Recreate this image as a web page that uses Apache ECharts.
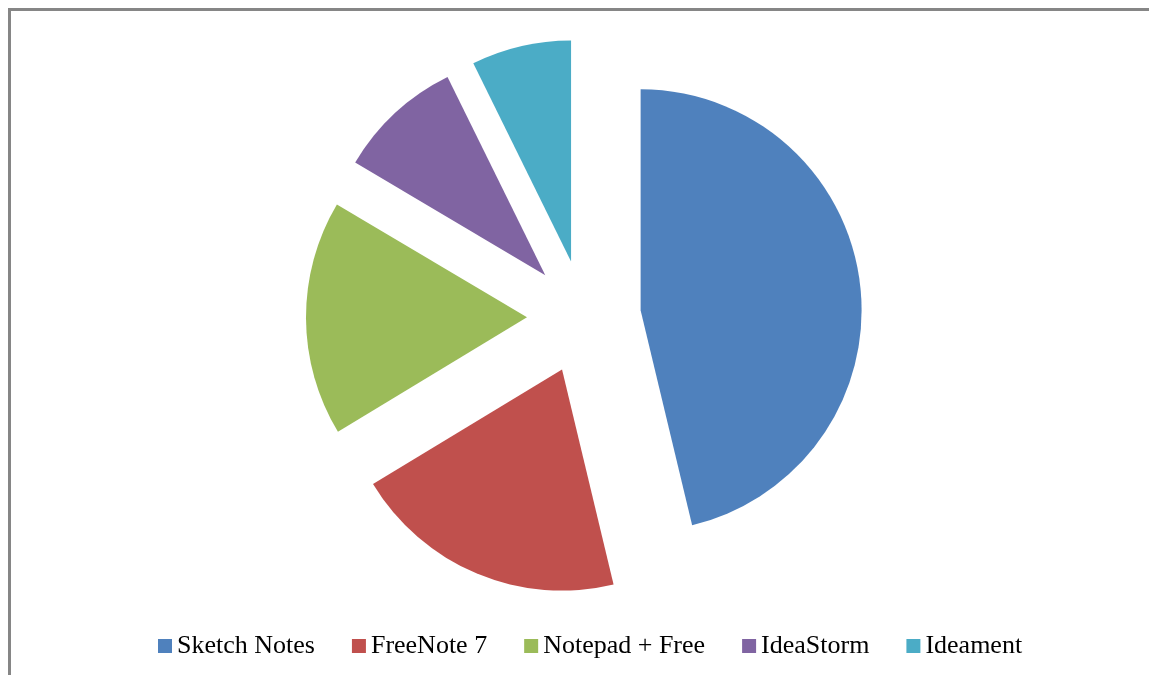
<!DOCTYPE html>
<html>
<head>
<meta charset="utf-8">
<script src="https://cdn.jsdelivr.net/npm/echarts@6/dist/echarts.min.js"></script>
<style>
html,body{margin:0;padding:0;background:#fff;}
#chart{width:1149px;height:675px;}
</style>
</head>
<body>
<div id="chart"></div>
<script>
var categories = ['Sketch Notes', 'FreeNote 7', 'Notepad + Free', 'IdeaStorm', 'Ideament'];
var values = [46.3, 20.1, 17.2, 9.2, 7.3];
var colors = ['#4F81BD', '#C0504D', '#9BBB59', '#8064A2', '#4BACC6'];

var chart = echarts.init(document.getElementById('chart'), null, {renderer: 'canvas'});
var data = categories.map(function (c, i) {
  return {name: c, value: values[i], selected: true, itemStyle: {color: colors[i]}};
});
chart.setOption({
  animation: false,
  backgroundColor: '#ffffff',
  graphic: [{
    type: 'rect',
    shape: {x: 9.5, y: 9.5, width: 1200, height: 700},
    style: {fill: 'none', stroke: '#868686', lineWidth: 3},
    silent: true
  }],
  legend: {
    data: categories,
    left: 153,
    top: 628,
    icon: 'rect',
    itemWidth: 14,
    itemHeight: 14,
    itemGap: 37,
    selectedMode: false,
    textStyle: {fontFamily: 'Liberation Serif', fontSize: 26, color: '#000'}
  },
  series: [{
    type: 'pie',
    center: [584, 317],
    radius: [0, 221],
    startAngle: 90,
    clockwise: true,
    selectedMode: 'multiple',
    selectedOffset: 57,
    label: {show: false},
    labelLine: {show: false},
    emphasis: {disabled: true},
    select: {itemStyle: {borderWidth: 0}},
    itemStyle: {borderWidth: 0},
    silent: true,
    data: data
  }]
});
</script>
</body>
</html>
